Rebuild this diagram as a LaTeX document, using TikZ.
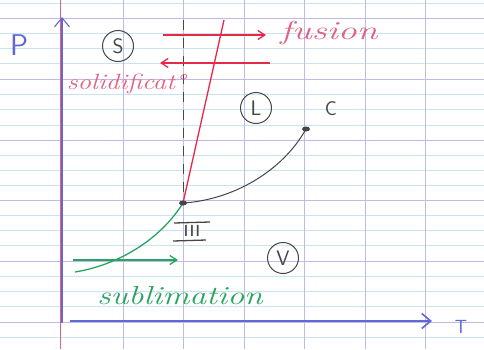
\documentclass[tikz,border=0pt]{standalone}
\usetikzlibrary{arrows.meta,shapes.geometric}
\definecolor{gridpurple}{RGB}{196,184,232}
\definecolor{gridblue}{RGB}{200,228,244}
\definecolor{inkred}{RGB}{232,40,72}
\definecolor{inkpink}{RGB}{226,96,130}
\definecolor{inkgreen}{RGB}{40,164,96}
\definecolor{inkblue}{RGB}{96,104,212}
\definecolor{pencil}{RGB}{70,70,70}
\tikzset{
  tip/.style={-{Straight Barb[length=7pt,width=9pt]}},
  bigtip/.style={-{Straight Barb[length=9pt,width=15pt]}},
  circled/.style={draw=pencil,circle,inner sep=1pt,minimum size=31pt,text=pencil,font=\fontsize{21}{24}\selectfont\sffamily, line width=1pt},
  dotpt/.style={fill=pencil,ellipse,inner sep=0pt,minimum width=8pt,minimum height=5pt},
  bar/.style={pencil,line width=1.3pt},
}
\begin{document}
\begin{tikzpicture}[x=1pt,y=-1pt]
\useasboundingbox (0,0) rectangle (484,349);
\fill[white] (0,0) rectangle (484,349);
% ruled paper
\foreach \y in {3,33,48,63,94,109,125,155,170,185,215,230,245,276,291,306,337} \draw[gridblue,line width=0.6pt] (0,\y) -- (484,\y);
\foreach \y in {18,79,140,200,261,322} \draw[gridpurple,line width=0.9pt] (0,\y) -- (484,\y);
\foreach \x in {123,183,244,304,365,425} \draw[gridpurple,line width=0.9pt] (\x,0) -- (\x,349);
\draw[inkpink,line width=0.9pt] (60.5,0) -- (60.5,349);
% axes
\coordinate (o) at (62,323);
\coordinate (ptop) at (62,17);
\coordinate (t0) at (70,321);
\coordinate (tend) at (432,321);
\draw[inkblue,line width=1.1pt,bigtip] (o) -- (ptop);
\draw[inkblue,line width=1.6pt,bigtip] (t0) -- (tend);
\node[text=inkblue,font=\fontsize{30}{32}\selectfont\sffamily] (P) at (19,45) {P};
\node[text=inkblue,font=\fontsize{19}{20}\selectfont\sffamily] (T) at (461,327) {T};
% points
\coordinate (tp) at (183,203);
\coordinate (cp) at (306,129);
\coordinate (dtop) at (183,20);
\coordinate (rtop) at (224,20);
\draw[pencil,line width=1pt,dash pattern=on 10pt off 8pt] (dtop) -- (tp);
\draw[inkred,line width=1.3pt] (tp) -- (rtop);
\draw[pencil,line width=1pt] (tp) .. controls (232,200) and (282,172) .. (cp);
\draw[inkgreen,line width=1.3pt] (tp) .. controls (160,240) and (118,265) .. (75,272);
\node[dotpt] (tpdot) at (tp) {};
\node[dotpt] (cpdot) at (cp) {};
% arrows
\coordinate (f1) at (163,35); \coordinate (f2) at (266,35);
\coordinate (s1) at (270,63); \coordinate (s2) at (160,63);
\coordinate (g1) at (73,260); \coordinate (g2) at (178,260);
\draw[inkred,line width=1.3pt,tip] (f1) -- (f2);
\draw[inkred,line width=1.3pt,tip] (s1) -- (s2);
\draw[inkgreen,line width=1.3pt,tip] (g1) -- (g2);
% labels
\node[text=inkpink,font=\fontsize{26}{28}\selectfont\itshape] (fusion) at (329,33) {\scalebox{1.45}[1]{fusion}};
\node[text=inkpink,font=\fontsize{22}{24}\selectfont\itshape] (solid) at (126,84) {\scalebox{1.22}[1]{solidificat°}};
\node[text=inkgreen,font=\fontsize{26}{28}\selectfont\itshape] (subl) at (180,296) {\scalebox{1.3}[1]{sublimation}};
\node[circled] (S) at (118,46) {S};
\node[circled] (L) at (256,108) {L};
\node[circled] (V) at (283,258) {V};
\node[text=pencil,font=\fontsize{20}{22}\selectfont\sffamily] (C) at (331,109) {C};
\node[text=pencil,font=\fontsize{16}{16}\selectfont\sffamily,inner sep=0pt] (III) at (192,231) {\scalebox{1.3}[1]{III}};
\draw[bar] (174,223) -- (210,222);
\draw[bar] (173,241) -- (206,240);
\end{tikzpicture}
\end{document}
